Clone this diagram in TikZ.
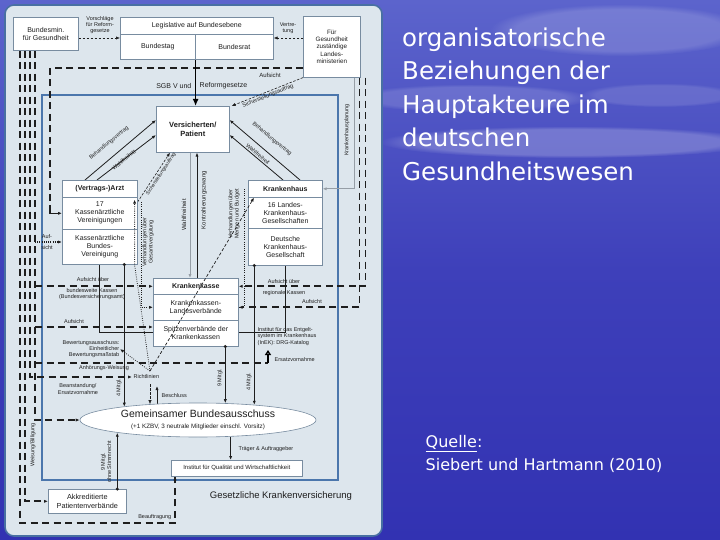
\documentclass[tikz,border=0pt]{standalone}
\usepackage{fontspec}
\setmainfont{Liberation Sans}
\newfontfamily\titlefont{DejaVu Sans}
\usetikzlibrary{arrows.meta,shapes.geometric,calc,fadings}
\pgfdeclarelayer{back}
\pgfdeclarelayer{bg}
\pgfsetlayers{back,bg,main}
\definecolor{bgtop}{RGB}{92,100,204}
\definecolor{bgmid}{RGB}{62,64,186}
\definecolor{bgbot}{RGB}{50,50,178}
\definecolor{panelfill}{RGB}{221,230,237}
\definecolor{panelborder}{RGB}{72,112,162}
\definecolor{boxline}{RGB}{120,140,160}
\definecolor{gkvline}{RGB}{75,118,172}
\definecolor{ink}{RGB}{30,30,30}
\definecolor{greyline}{RGB}{150,158,166}
\tikzset{
  nbox/.style={draw=boxline,fill=white,line width=0.6pt,inner sep=0.5pt,align=center,anchor=north west,text=ink,font=\fontsize{7}{8}\selectfont},
  lab/.style={text=ink,inner sep=0.5pt,align=center,font=\fontsize{6}{7}\selectfont},
  ftiny/.style={text=ink,inner sep=0.5pt,align=center,font=\fontsize{5.5}{6.3}\selectfont},
  arr/.style={-{Latex[length=4pt,width=3.2pt]}},
  thickdash/.style={draw=ink,line width=1.7pt,dash pattern=on 7pt off 4.5pt},
  thindash/.style={draw=ink,line width=0.6pt,dash pattern=on 2.5pt off 1.5pt},
  dotln/.style={draw=ink,line width=0.8pt,dash pattern=on 0.8pt off 1.4pt},
  solidln/.style={draw=ink,line width=0.8pt},
  cloud/.style={fill=white,path fading=circle with fuzzy edge 20 percent},
}
\begin{document}
\begin{tikzpicture}[x=1pt,y=-1pt]
\useasboundingbox (0,0) rectangle (720,540);
\begin{pgfonlayer}{back}
\shade[top color=bgtop,bottom color=bgbot,middle color=bgmid] (0,0) rectangle (720,540);
\fill[cloud,opacity=0.22] (570,142) ellipse [x radius=190pt, y radius=16pt];
\fill[cloud,opacity=0.16] (620,30) ellipse [x radius=130pt, y radius=26pt];
\fill[cloud,opacity=0.14] (470,98) ellipse [x radius=120pt, y radius=14pt];
\fill[cloud,opacity=0.12] (660,95) ellipse [x radius=80pt, y radius=12pt];
\draw[fill=panelfill,draw=panelborder,line width=1.6pt,rounded corners=9pt] (5,5) rectangle (382,536);
\draw[gkvline,line width=1.5pt] (42,95) rectangle (338,480);
\end{pgfonlayer}

% ---------- title ----------
\node[anchor=north west,inner sep=0pt,align=left,text=white,font=\titlefont\fontsize{24.5}{33.5}\selectfont] (title) at (402,27.5)
  {organisatorische\\Beziehungen der\\Hauptakteure im\\deutschen\\Gesundheitswesen};
\node[anchor=north west,inner sep=0pt,align=left,text=white,font=\titlefont\fontsize{16}{22.5}\selectfont] (quelle) at (425.5,435.5)
  {\underline{Quelle}:\\Siebert und Hartmann (2010)};

% ---------- boxes ----------
\node[nbox,minimum width=65pt,minimum height=33pt] (bmg) at (13,17) {Bundesmin.\\für Gesundheit};
\node[nbox,minimum width=153pt,minimum height=17pt] (leg) at (120,17) {Legislative auf Bundesebene};
\node[nbox,minimum width=75pt,minimum height=25pt] (bt) at (120,34) {Bundestag};
\node[nbox,minimum width=78pt,minimum height=25pt] (br) at (195,34) {Bundesrat};
\node[nbox,minimum width=57pt,minimum height=61pt,font=\fontsize{6.3}{7.3}\selectfont] (laender) at (303,16) {Für\\Gesundheit\\zuständige\\Landes-\\ministerien};
\node[nbox,minimum width=73pt,minimum height=46pt,font=\bfseries\fontsize{7.5}{9}\selectfont] (vers) at (156,106) {Versicherten/\\Patient};

\node[nbox,minimum width=75pt,minimum height=17pt,font=\bfseries\fontsize{7}{8}\selectfont] (arzt) at (62,180) {(Vertrags-)Arzt};
\node[nbox,minimum width=75pt,minimum height=32pt] (kv) at (62,197) {17\\Kassenärztliche\\Vereinigungen};
\node[nbox,minimum width=75pt,minimum height=35pt] (kbv) at (62,229) {Kassenärztliche\\Bundes-\\Vereinigung};

\node[nbox,minimum width=74pt,minimum height=17pt,font=\bfseries\fontsize{7}{8}\selectfont] (kh) at (248,180) {Krankenhaus};
\node[nbox,minimum width=74pt,minimum height=31pt] (lkg) at (248,197) {16 Landes-\\Krankenhaus-\\Gesellschaften};
\node[nbox,minimum width=74pt,minimum height=37pt] (dkg) at (248,228) {Deutsche\\Krankenhaus-\\Gesellschaft};

\node[nbox,minimum width=85pt,minimum height=16pt,font=\bfseries\fontsize{7}{8}\selectfont] (kk) at (153,278) {Krankenkasse};
\node[nbox,minimum width=85pt,minimum height=26pt] (lv) at (153,294) {Krankenkassen-\\Landesverbände};
\node[nbox,minimum width=85pt,minimum height=26pt] (sv) at (153,320) {Spitzenverbände der\\Krankenkassen};

\node[ellipse,draw=boxline,fill=white,line width=0.6pt,minimum width=236pt,minimum height=34pt,inner sep=0pt,align=center,text=ink] (gba) at (198,420)
  {{\fontsize{10.5}{12}\selectfont Gemeinsamer Bundesausschuss}\\[-1pt]{\fontsize{6.3}{7}\selectfont (+1 KZBV, 3 neutrale Mitglieder einschl. Vorsitz)}};
\node[nbox,minimum width=131pt,minimum height=16pt,font=\fontsize{6}{7}\selectfont] (iqwig) at (171,460) {Institut für Qualität und Wirtschaftlichkeit};
\node[nbox,minimum width=78pt,minimum height=24pt,font=\fontsize{7.3}{8.5}\selectfont] (patv) at (48,489) {Akkreditierte\\Patientenverbände};

\node[text=ink,font=\fontsize{9.5}{11}\selectfont] (gkvlab) at (281,496) {Gesetzliche Krankenversicherung};

% ---------- text labels ----------
\node[ftiny,anchor=east,align=right] (ebm) at (120,349) {Bewertungsausschuss:\\Einheitlicher\\Bewertungsmaßstab};
\node[ftiny,anchor=north west,align=left] (inek) at (257,327) {Institut für das Entgelt-\\system im Krankenhaus\\(InEK): DRG-Katalog};
\node[ftiny] (vorschl) at (100,25) {Vorschläge\\für Reform-\\gesetze};
\node[ftiny] (vertr) at (288,28) {Vertre-\\tung};
\node[lab] (aufs1) at (270,75) {Aufsicht};
\node[lab,anchor=east,font=\fontsize{7}{8}\selectfont] (sgb1) at (192,86) {SGB V und};
\node[lab,anchor=west,font=\fontsize{7}{8}\selectfont] (sgb2) at (199,86) {Reformgesetze};
\node[ftiny,rotate=22.6] (sich1) at (268,96) {Sicherstellungsauftrag};
\node[ftiny,rotate=90] (khplan) at (347,130) {Krankenhausplanung};
\node[ftiny,rotate=40] (bv1) at (109,143) {Behandlungsvertrag};
\node[ftiny,rotate=40] (wf1) at (124,160) {Wahlfreiheit};
\node[ftiny,rotate=-40] (bv2) at (272,139) {Behandlungsvertrag};
\node[ftiny,rotate=-40] (wf2) at (258,154) {Wahlfreiheit};
\node[ftiny,rotate=56.6,font=\fontsize{5}{6}\selectfont] (sich2) at (161,174) {Sicherstellungsauftrag};
\node[ftiny,rotate=90] (gesv) at (148,242) {Verhandlungen über\\Gesamtvergütung};
\node[ftiny,rotate=90] (mub) at (234,214) {Verhandlungen über\\Mengen und Budget};
\node[lab,rotate=90] (wf3) at (184,215) {Wahlfreiheit};
\node[lab,rotate=90] (kz) at (204,200) {Kontrahierungszwang};
\node[ftiny] (auf1) at (47,237) {Auf-};
\node[ftiny] (auf2) at (47,248) {sicht};
\node[ftiny] (abk1) at (93,280) {Aufsicht über};
\node[ftiny] (abk2) at (92,294) {bundesweite Kassen\\(Bundesversicherungsamt)};
\node[ftiny] (aufsv) at (74,322) {Aufsicht};
\node[ftiny] (arg1) at (284,282) {Aufsicht über};
\node[ftiny] (arg2) at (284,293) {regionale Kassen};
\node[ftiny] (aufr) at (312,302) {Aufsicht};
\node[ftiny] (anh) at (104,368) {Anhörungs-Weisung};
\node[ftiny,anchor=west] (ersv) at (274,360) {Ersatzvornahme};
\node[ftiny,anchor=west] (richtl) at (133,377) {Richtlinien};
\node[ftiny] (beanst) at (78,389) {Beanstandung/\\Ersatzvornahme};
\node[ftiny,anchor=west] (beschl) at (161,396) {Beschluss};
\node[ftiny,rotate=90] (m1) at (119,388) {4 Mitgl.};
\node[ftiny,rotate=90] (m2) at (220,378) {9 Mitgl.};
\node[ftiny,rotate=90] (m3) at (249,382) {4 Mitgl.};
\node[ftiny,rotate=90] (m4) at (106,462) {9 Mitgl.\\ohne Stimmrecht};
\node[ftiny,rotate=90] (weis) at (33,445) {Weisung/Billigung};
\node[ftiny,anchor=west] (traeger) at (238,449) {Träger \& Auftraggeber};
\node[ftiny,anchor=east] (beauf) at (172,517) {Beauftragung};

% ---------- helper coordinates ----------
\coordinate (l1t) at ($(bmg.south west)+(7,0)$);
\coordinate (l2t) at ($(bmg.south west)+(12,0)$);
\coordinate (l3t) at ($(bmg.south west)+(17,0)$);
\coordinate (l4t) at ($(bmg.south west)+(22,0)$);
\coordinate (l1b) at (20,523);
\coordinate (bq) at (175,523);
\coordinate (bqd) at (175,480);
\coordinate (rlin) at (132,377);
\coordinate (y242) at (0,242);
\coordinate (ys) at (0,327);
\coordinate (ev) at (268,363);
\coordinate (r1t) at ($(laender.south east)+(-1,0)$);
\coordinate (r2t) at ($(laender.south east)+(5,0)$);
\coordinate (a68) at (50,68);
\coordinate (a205) at (50,205);
\coordinate (y38) at (0,38);
\coordinate (y332) at (0,332);
\coordinate (khp) at ($(laender.south west)+(51,0)$);
\coordinate (k1) at ($(kbv.south)+(24.5,0)$);
\coordinate (s1) at ($(sv.south)+(29.5,0)$);
\coordinate (d1) at ($(dkg.south)+(-31,0)$);
\coordinate (p1) at ($(patv.north)+(30,0)$);
\coordinate (be) at (157,386);
\coordinate (rd) at (150,384);
\coordinate (rl) at (150,371);
\coordinate (fa) at ($(kbv.south east)+(-3,0)$);
\coordinate (fb) at ($(arzt.south east)+(-3,2)$);
\coordinate (g1) at ($(kv.north east)+(4,5)$);
\coordinate (mb1) at ($(kh.west)+(-4,0)$);
\coordinate (w1) at ($(vers.south west)+(34,0)$);
\coordinate (w2) at ($(vers.south west)+(41,0)$);

\begin{pgfonlayer}{bg}
% left supervision lines from BMG
\draw[thickdash] (l1t) -- (l1b) -- (bq) -- (bqd) -- (bqd |- iqwig.south);
\draw[thickdash,arr] (l2t) -- (l2t |- patv.west) -- (patv.west);
\draw[thickdash,arr] (l3t) -- (l3t |- rlin) -- (rlin);
\draw[thickdash,arr] (l4t) -- (l4t |- gba.west) -- (gba.west);
\draw[dotln,line width=1.1pt,arr] (l4t |- y242) -- (kbv.west |- y242);
\draw[thickdash,arr] (l4t |- kk.west) -- (kk.west);
\draw[thickdash,arr] (l4t |- ys) -- (sv.west |- ys);
\draw[thickdash] (l4t |- ev) -- (ev);
\draw[line width=1.6pt,-{Triangle[open,length=5pt,width=6pt]}] (ev) -- ++(0,-13);
% right supervision lines from Laender
\draw[thickdash,arr] (r2t) -- (r2t |- kk.east) -- (kk.east);
\draw[thickdash,arr] (r1t) -- (r1t |- lv.east) -- (lv.east);
\draw[thickdash] (laender.west |- a68) -- (a68) -- (a205);
\draw[solidln,line width=1.2pt,arr] (a205) |- (kv.west);
% legislative
\draw[thindash,arr] (bmg.east |- y38) -- (bt.west |- y38);
\draw[thindash,arr] (laender.west |- y38) -- (br.east |- y38);
\draw[line width=1.5pt,-{Latex[length=7pt,width=6pt]}] (bt.south east) -- (bt.south east |- vers.north);
\draw[thindash,arr] (laender.south west) -- ($(vers.north east)+(2,0)$);
\draw[greyline,line width=0.8pt,arr] (khp) |- (kh.east);
% actors - insured
\draw[solidln,arr] ($(arzt.north west)+(23,0)$) -- ($(vers.north west)+(0,14)$);
\draw[solidln,arr] ($(arzt.north west)+(35,0)$) -- ($(vers.north west)+(0,29)$);
\draw[solidln,arr] ($(kh.north west)+(52,0)$) -- ($(vers.north east)+(0,14)$);
\draw[solidln,arr] ($(kh.north west)+(35,0)$) -- ($(vers.north east)+(0,29)$);
\draw[thindash,arr] ($(arzt.north east)+(0,22)$) -- ($(vers.south west)+(14,0)$);
\draw[greyline,line width=0.8pt,arr] (w1) -- (w1 |- kk.north);
\draw[solidln,arr] (w2 |- kk.north) -- (w2);
\draw[dotln,arr] (g1) -- (g1 |- lv.west) -- (lv.west);
\draw[dotln] (mb1) -- (mb1 |- lv.east) -- (lv.east);
% InEK joint line
\draw[solidln,line width=1pt] (kbv.south) -- (kbv.south |- y332) -- (dkg.south |- y332) -- (dkg.south);
% members of G-BA
\draw[solidln,arr] (k1) -- (k1 |- gba.170);
\draw[solidln,arr] (s1) -- (s1 |- gba.31);
\draw[solidln,arr] (d1) -- (d1 |- gba.15);
\draw[solidln,arr] (p1) -- (p1 |- gba.189);
\draw[solidln,arr] (be |- gba.159) -- (be);
\draw[thindash,arr] (rd) -- (rd |- gba.162);
\draw[solidln,arr] (gba.-27) -- (gba.-27 |- iqwig.north);
\end{pgfonlayer}

% lines drawn over boxes
\draw[dotln,arr] (rl) -- (ebm.east);
\draw[dotln,arr] (rl) -- (fa) -- (fb);
\draw[draw=ink,line width=0.7pt,dash pattern=on 3pt off 2pt,arr] (rl) -- ($(kh.south west)+(6,0)$);

% dots
\fill[ink] (k1) circle (1.7pt);
\fill[ink] (s1) circle (1.7pt);
\fill[ink] (d1) circle (1.7pt);
\fill[ink] (p1) circle (1.7pt);
\fill[ink] (bqd) circle (1.7pt);
\end{tikzpicture}
\end{document}
